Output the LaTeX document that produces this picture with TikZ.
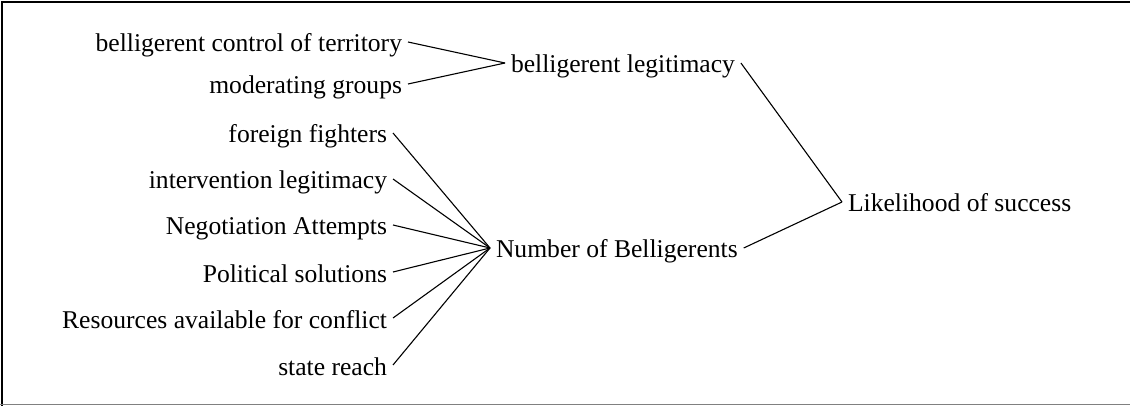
\documentclass[tikz,border=0pt]{standalone}
\usepackage{fontspec}
\setmainfont{Liberation Serif}
\begin{document}
\begin{tikzpicture}[x=1pt,y=-1pt,
  lbl/.style={inner xsep=6pt, inner ysep=0pt, outer sep=0pt,
    text height=20pt, text depth=0pt,
    font=\fontsize{25.6}{30}\selectfont},
  link/.style={draw=black, line width=1.1pt}]
\useasboundingbox (0,0) rectangle (1130,406);
% frame
\draw[line width=2.5pt] (2,406) -- (2,2) -- (1130,2);
\draw[gray, line width=1.2pt] (0,404.5) -- (1130,404.5);

% causes
\node[lbl, anchor=east] (terr) at (408,42) {belligerent control of territory};
\node[lbl, anchor=east] (mod) at (408,84) {moderating groups};
\node[lbl, anchor=east] (forf) at (393,133) {foreign fighters};
\node[lbl, anchor=east] (intv) at (393,179) {intervention legitimacy};
\node[lbl, anchor=east] (nego) at (393,225) {Negotiation Attempts};
\node[lbl, anchor=east] (pols) at (393,272) {Political solutions};
\node[lbl, anchor=east] (reso) at (393,318) {Resources available for conflict};
\node[lbl, anchor=east] (reach) at (393,365) {state reach};

% intermediate variables
\node[lbl, anchor=west] (legit) at (505,63) {belligerent legitimacy};
\node[lbl, anchor=west] (numb) at (490,248) {Number of Belligerents};

% outcome
\node[lbl, anchor=west] (like) at (842,202) {Likelihood of success};

% connectors
\draw[link] (terr.east) -- (legit.west);
\draw[link] (mod.east) -- (legit.west);
\foreach \n in {forf,intv,nego,pols,reso,reach}
  \draw[link] (\n.east) -- (numb.west);
\draw[link] (legit.east) -- (like.west);
\draw[link] (numb.east) -- (like.west);
\end{tikzpicture}
\end{document}
